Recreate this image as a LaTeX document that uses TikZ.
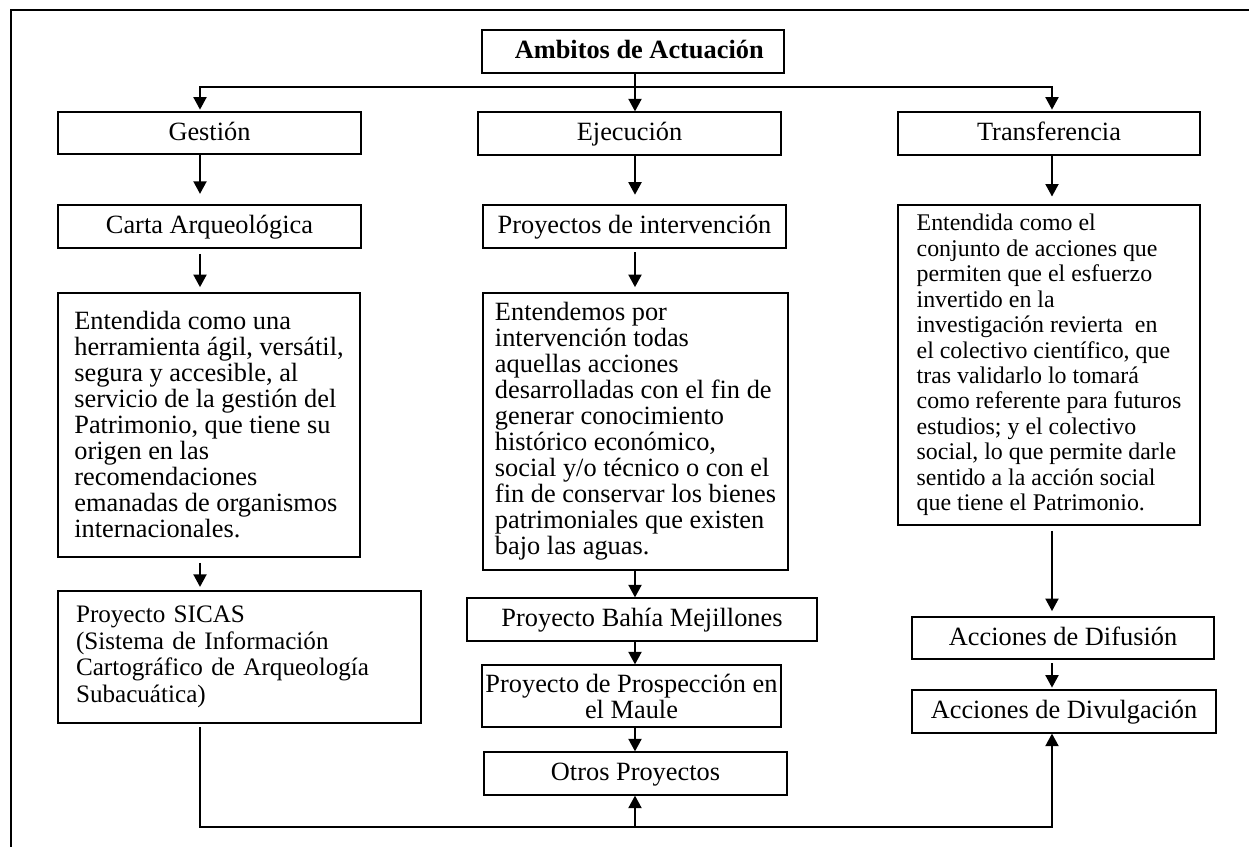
\documentclass[tikz,border=0pt]{standalone}
\usepackage{fontspec}
\setmainfont{Liberation Serif}
\usetikzlibrary{arrows.meta}
\lineskiplimit=-\maxdimen

\begin{document}
\begin{tikzpicture}[x=0.02cm,y=-0.02cm]
    \tikzstyle{every node}=[font=\fontsize{15}{14.8}\selectfont]
    \tikzstyle{textbox}=[draw=black,line width=0.7pt,inner sep=2pt,align=left]
    \tikzstyle{box}=[textbox,align=center,text height=11pt,text depth=3pt]
    \tikzstyle{arr}=[line width=1.1pt,-{Triangle[length=0.25cm,width=0.26cm]}]
    \tikzstyle{frame}=[line width=1.5pt]
    \useasboundingbox (0,0) rectangle (1249,847);
    \draw[frame] (1249,10) -- (11,10) -- (11,847);
    % column axes
    \coordinate (colA) at (200,0);
    \coordinate (colB) at (635,0);
    \coordinate (colC) at (1052,0);
    \coordinate (split) at (635,87);
    \coordinate (loop) at (635,827);
    % top
    \node[box,minimum width=6.04cm,minimum height=0.86cm,font=\fontsize{15}{14.8}\selectfont\bfseries] (title) at (633,51.5) {\hspace{0.25cm}Ambitos de Actuación};
    \node[box,minimum width=6.06cm,minimum height=0.84cm] (gest) at (209.5,133) {Gestión};
    \node[box,minimum width=6.06cm,minimum height=0.86cm] (ejec) at (629.5,133.5) {Ejecución};
    \node[box,minimum width=6.04cm,minimum height=0.86cm] (trans) at (1049,133.5) {Transferencia};
    % gestion
    \node[box,minimum width=6.06cm,minimum height=0.86cm] (carta) at (209.5,226.5) {Carta Arqueológica};
    \node[textbox,minimum width=6.04cm,minimum height=5.28cm] (gesttxt) at (209,425) {Entendida como una\\herramienta ágil, versátil,\\segura y accesible, al\\servicio de la gestión del\\Patrimonio, que tiene su\\origen en las\\recomendaciones\\emanadas de organismos\\internacionales.};
    \node[textbox,text width=6.54cm,inner xsep=0.36cm,minimum height=2.64cm,font=\fontsize{14.3}{15.2}\selectfont] (sicas) at (239.5,657) {Proyecto SICAS\\(Sistema de Información\\Cartográfico de Arqueología\\Subacuática)};
    % ejecucion
    \node[box,minimum width=6.06cm,minimum height=0.86cm] (proyint) at (634.5,226.5) {Proyectos de intervención};
    \node[textbox,minimum width=6.10cm,minimum height=5.54cm] (ejectxt) at (635.5,431.5) {Entendemos por\\intervención todas\\aquellas acciones\\desarrolladas con el fin de\\generar conocimiento\\histórico económico,\\social y/o técnico o con el\\fin de conservar los bienes\\patrimoniales que existen\\bajo las aguas.};
    \node[box,minimum width=7.00cm,minimum height=0.86cm] (bahia) at (642,619.5) {Proyecto Bahía Mejillones};
    \node[textbox,align=center,inner xsep=1pt,minimum width=5.98cm,minimum height=1.24cm] (maule) at (631.5,696) {Proyecto de Prospección en\\el Maule};
    \node[box,minimum width=6.06cm,minimum height=0.86cm] (otros) at (635.5,773.5) {Otros Proyectos};
    % transferencia
    \node[textbox,minimum width=6.04cm,minimum height=6.4cm,font=\fontsize{13.6}{14.5}\selectfont] (transtxt) at (1049,365) {Entendida como el\\conjunto de acciones que\\permiten que el esfuerzo\\invertido en la\\investigación revierta \ en\\el colectivo científico, que\\tras validarlo lo tomará\\como referente para futuros\\estudios; y el colectivo\\social, lo que permite darle\\sentido a la acción social\\que tiene el Patrimonio.};
    \node[box,minimum width=6.04cm,minimum height=0.84cm] (difus) at (1063,638) {Acciones de Difusión};
    \node[box,minimum width=6.08cm,minimum height=0.86cm] (divul) at (1064,711.5) {Acciones de Divulgación};
    % connectors
    \draw[arr] (title.south -| colB) -- (ejec.north -| colB);
    \draw[arr,shorten >=1pt] (split) -| (gest.north -| colA);
    \draw[arr,shorten >=1pt] (split) -| (trans.north -| colC);
    \draw[arr,shorten >=6pt] (gest.south -| colA) -- (carta.north -| colA);
    \draw[arr,shorten >=5.5pt] (ejec.south -| colB) -- (proyint.north -| colB);
    \draw[arr,shorten >=4.5pt] (trans.south -| colC) -- (transtxt.north -| colC);
    \draw[arr,shorten <=3pt,shorten >=3pt] (carta.south -| colA) -- (gesttxt.north -| colA);
    \draw[arr,shorten <=2pt,shorten >=3pt] (proyint.south -| colB) -- (ejectxt.north -| colB);
    \draw[arr,shorten <=3pt,shorten >=2pt] (gesttxt.south -| colA) -- (sicas.north -| colA);
    \draw[arr] (ejectxt.south -| colB) -- (bahia.north -| colB);
    \draw[arr] (bahia.south -| colB) -- (maule.north -| colB);
    \draw[arr] (maule.south -| colB) -- (otros.north -| colB);
    \draw[arr,shorten <=3pt,shorten >=3pt] (transtxt.south -| colC) -- (difus.north -| colC);
    \draw[arr,shorten <=2pt,shorten >=1pt] (difus.south -| colC) -- (divul.north -| colC);
    \draw[arr,shorten <=2pt] (sicas.south -| colA) |- (loop) -| (divul.south -| colC);
    \draw[arr] (loop) -- (otros.south -| colB);
\end{tikzpicture}
\end{document}
